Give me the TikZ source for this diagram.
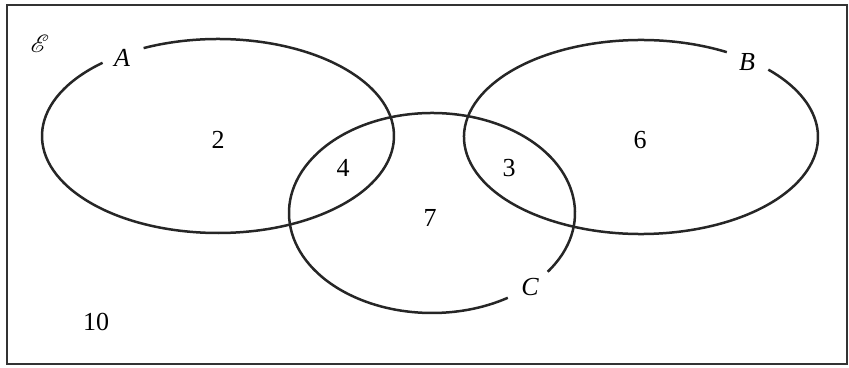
\documentclass[tikz,border=0pt]{standalone}
\usepackage{fontspec}
\setmainfont{Liberation Serif}
\usepackage{mathrsfs}
\begin{document}
\begin{tikzpicture}[x=1pt,y=1pt,
  curve/.style={line width=2.5pt,draw=black!85},
  lbl/.style={font=\fontsize{26}{30}\selectfont},
  setlbl/.style={font=\fontsize{26}{30}\selectfont\itshape}]
\useasboundingbox (0,0) rectangle (849,367);
% frame
\draw[line width=2.8pt,draw=black!80] (7,3) rectangle (847,362);
% A
\draw[curve] (218,231) ++(131:176 and 97) arc[start angle=131,end angle=475,x radius=176,y radius=97];
% B
\draw[curve] (641,230) ++(61:177 and 97) arc[start angle=61,end angle=404,x radius=177,y radius=97];
% C
\draw[curve] (432,154) ++(-36:143 and 100) arc[start angle=-36,end angle=302,x radius=143,y radius=100];
% labels
\node[font=\fontsize{26}{30}\selectfont] (E) at (40,323) {$\mathscr{E}$};
\node[setlbl] (A) at (122,309) {A};
\node[setlbl] (B) at (747,305) {B};
\node[setlbl] (C) at (530,80) {C};
\node[lbl] (n2) at (218,227) {2};
\node[lbl] (n4) at (343,199) {4};
\node[lbl] (n7) at (430,149) {7};
\node[lbl] (n3) at (509,199) {3};
\node[lbl] (n6) at (640,227) {6};
\node[lbl] (n10) at (96,45) {10};
\end{tikzpicture}
\end{document}
